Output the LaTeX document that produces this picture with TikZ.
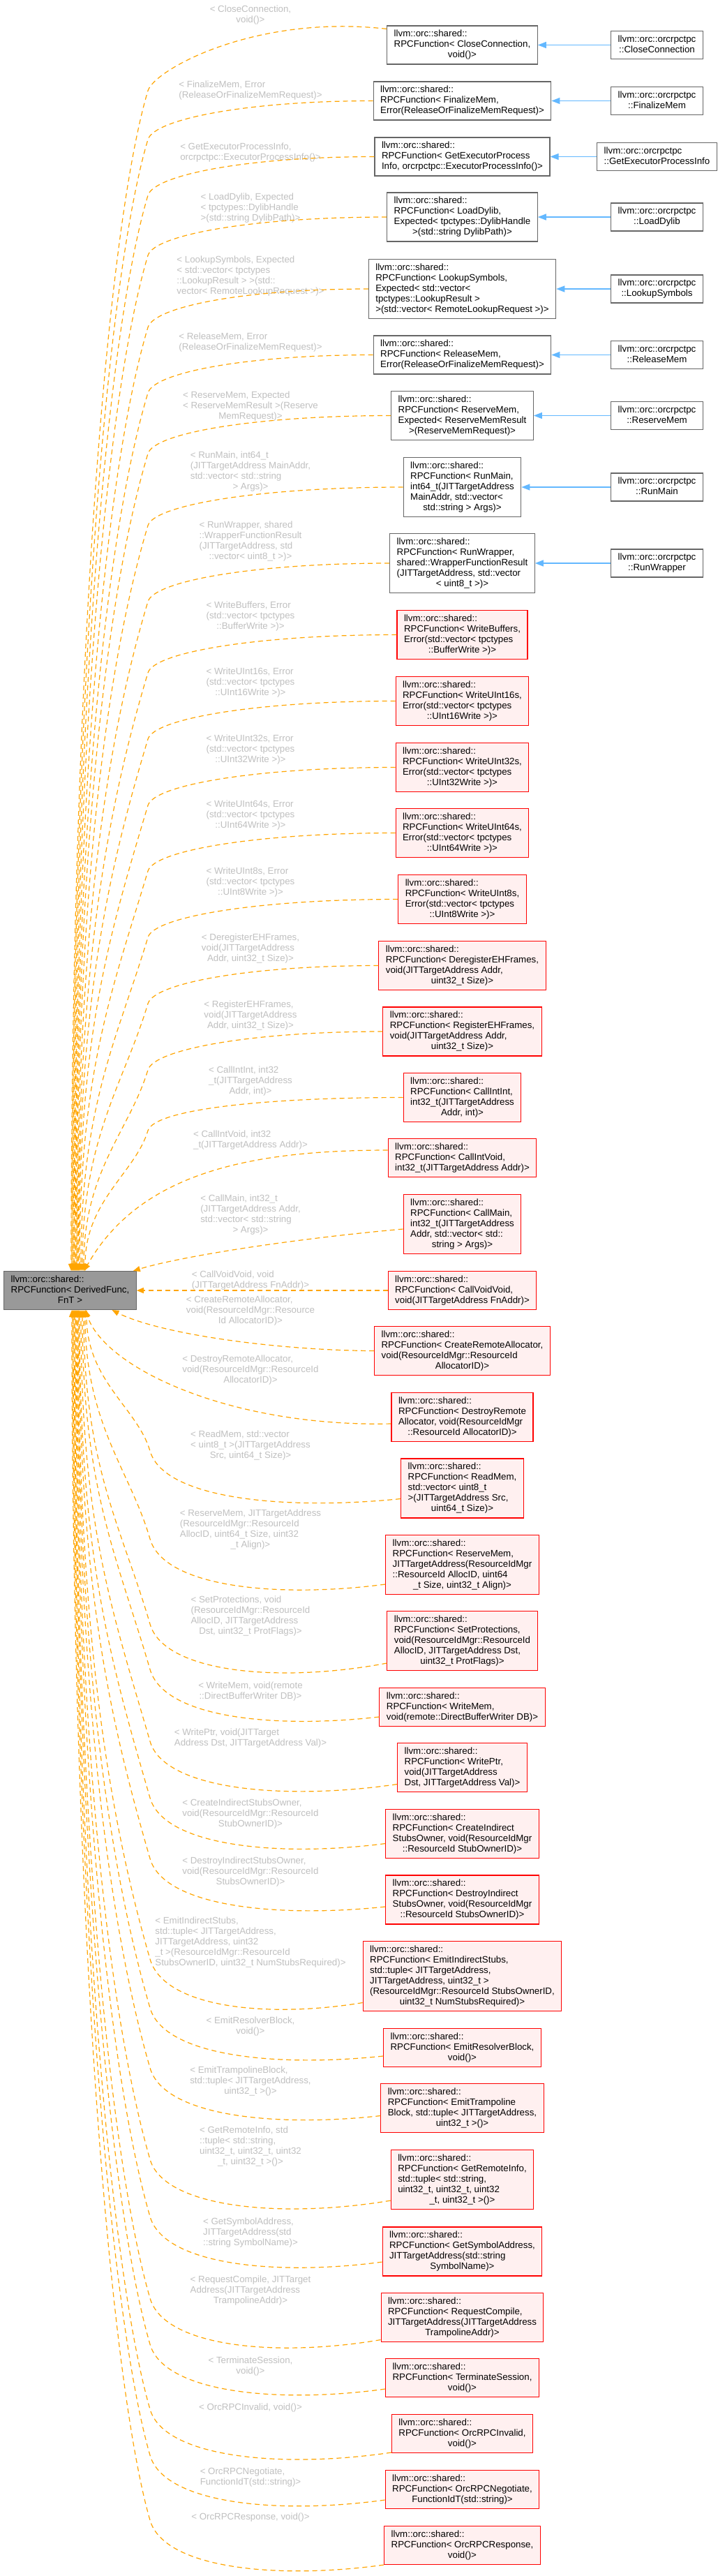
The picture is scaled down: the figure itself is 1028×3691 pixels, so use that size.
\documentclass[tikz,border=0pt]{standalone}
\usepackage{fontspec}
\setmainfont{Liberation Sans}
\usetikzlibrary{arrows.meta,calc}
\definecolor{edgeor}{HTML}{FFA500}
\definecolor{inhblue}{HTML}{63B8FF}
\definecolor{lblgray}{HTML}{C0C0C0}
\definecolor{nodegray}{HTML}{666666}
\definecolor{redfill}{HTML}{FFF0F0}
\definecolor{rootfill}{HTML}{999999}
\newcommand\Lf[1]{\multicolumn{1}{@{}l@{}}{#1}}
\newcommand\tb[1]{\begin{tabular}{@{}c@{}}#1\end{tabular}}
\newcommand\mtx[1]{\tb{\Lf{llvm::orc::shared::}\\#1}}
\newcommand\rtx[1]{\tb{\Lf{llvm::orc::orcrpctpc}\\#1}}
\newcommand\myfnt{\fontsize{13.3}{15}\selectfont}
% upper edge: #1 start, #2 start x, #3 first control y, #4 bend y, #5 target x
\newcommand\uedge[5]{%
 \pgfmathsetmacro\uqA{#2-0.55*(#2-212)}%
 \pgfmathsetmacro\uqB{#4-30}%
 \pgfmathsetmacro\uqD{1821-#4}%
 \pgfmathsetmacro\uqL{min(200,0.3*\uqD)}%
 \pgfmathsetmacro\uqE{212-0.3*\uqL}%
 \pgfmathsetmacro\uqF{#4+\uqL}%
 \pgfmathsetmacro\uqG{#4+0.5*\uqD}%
 \pgfmathsetmacro\uqT{#5-100.5}%
 \draw[tmpl] (#1) .. controls (\uqA,#3) and (221,\uqB) .. (212,#4) .. controls (\uqE,\uqF) and (#5,\uqG) .. ($(root.north)+(\uqT,0)$);}
% lower edge: #1 start, #2 start x, #3 lowest y, #4 target x
\newcommand\ledge[4]{%
 \pgfmathsetmacro\uqA{#2-0.45*(#2-215)}%
 \pgfmathsetmacro\uqB{#3+10}%
 \pgfmathsetmacro\uqC{#3-5}%
 \pgfmathsetmacro\uqY{#3-75}%
 \pgfmathsetmacro\uqD{\uqY-1877}%
 \pgfmathsetmacro\uqL{min(200,0.3*\uqD)}%
 \pgfmathsetmacro\uqE{215-0.29*\uqL}%
 \pgfmathsetmacro\uqF{\uqY-\uqL}%
 \pgfmathsetmacro\uqG{1877+0.5*\uqD}%
 \pgfmathsetmacro\uqT{#4-100.5}%
 \draw[tmpl] (#1) .. controls (\uqA,\uqB) and (235,\uqC) .. (215,\uqY) .. controls (\uqE,\uqF) and (#4,\uqG) .. ($(root.south)+(\uqT,0)$);}
\begin{document}
\begin{tikzpicture}[x=1pt,y=-1pt,
 nbox/.style={draw=nodegray,fill=white,line width=1.1pt,inner xsep=10pt,inner ysep=5pt,font=\myfnt,text=black},
 midn/.style={nbox},
 redn/.style={nbox,draw=red,fill=redfill},
 rootn/.style={nbox,fill=rootfill},
 rgt/.style={nbox},
 lbl/.style={font=\myfnt,text=lblgray,inner sep=0pt},
 tmpl/.style={draw=edgeor,line width=1.2pt,dash pattern=on 7pt off 5pt,-{Triangle[length=10pt,width=8pt]}},
 inh/.style={draw=inhblue,line width=1.3pt,-{Triangle[length=12pt,width=9pt]}}]
\fill[white] (0,0) rectangle (1028,3691);
\useasboundingbox (0,0) rectangle (1028,3691);

% root
\node[rootn] (root) at (100.5,1849) {\mtx{\Lf{RPCFunction< DerivedFunc,}\\FnT >}};

% middle nodes
\node[midn] (n1) at (662.5,64.5) {\mtx{\Lf{RPCFunction< CloseConnection,}\\void()>}};
\node[midn] (n2) at (662.5,144.5) {\mtx{\Lf{RPCFunction< FinalizeMem,}\\Error(ReleaseOrFinalizeMemRequest)>}};
\node[midn] (n3) at (662.5,224.5) {\mtx{\Lf{RPCFunction< GetExecutorProcess}\\Info, orcrpctpc::ExecutorProcessInfo()>}};
\node[midn] (n4) at (662.5,311) {\mtx{\Lf{RPCFunction< LoadDylib,}\\\Lf{Expected< tpctypes::DylibHandle}\\>(std::string DylibPath)>}};
\node[midn] (n5) at (662.5,414) {\mtx{\Lf{RPCFunction< LookupSymbols,}\\\Lf{Expected< std::vector<}\\\Lf{tpctypes::LookupResult >}\\>(std::vector< RemoteLookupRequest >)>}};
\node[midn] (n6) at (662.5,508.5) {\mtx{\Lf{RPCFunction< ReleaseMem,}\\Error(ReleaseOrFinalizeMemRequest)>}};
\node[midn] (n7) at (662.5,595.5) {\mtx{\Lf{RPCFunction< ReserveMem,}\\\Lf{Expected< ReserveMemResult}\\>(ReserveMemRequest)>}};
\node[midn] (n8) at (662.5,698) {\mtx{\Lf{RPCFunction< RunMain,}\\\Lf{int64\_t(JITTargetAddress}\\\Lf{MainAddr, std::vector<}\\std::string > Args)>}};
\node[midn] (n9) at (662.5,807) {\mtx{\Lf{RPCFunction< RunWrapper,}\\\Lf{shared::WrapperFunctionResult}\\\Lf{(JITTargetAddress, std::vector}\\< uint8\_t >)>}};
\node[redn] (n10) at (662.5,909.5) {\mtx{\Lf{RPCFunction< WriteBuffers,}\\\Lf{Error(std::vector< tpctypes}\\::BufferWrite >)>}};
\node[redn] (n11) at (662.5,1004.5) {\mtx{\Lf{RPCFunction< WriteUInt16s,}\\\Lf{Error(std::vector< tpctypes}\\::UInt16Write >)>}};
\node[redn] (n12) at (662.5,1099.5) {\mtx{\Lf{RPCFunction< WriteUInt32s,}\\\Lf{Error(std::vector< tpctypes}\\::UInt32Write >)>}};
\node[redn] (n13) at (662.5,1193.5) {\mtx{\Lf{RPCFunction< WriteUInt64s,}\\\Lf{Error(std::vector< tpctypes}\\::UInt64Write >)>}};
\node[redn] (n14) at (662.5,1288.5) {\mtx{\Lf{RPCFunction< WriteUInt8s,}\\\Lf{Error(std::vector< tpctypes}\\::UInt8Write >)>}};
\node[redn] (n15) at (662.5,1383.5) {\mtx{\Lf{RPCFunction< DeregisterEHFrames,}\\\Lf{void(JITTargetAddress Addr,}\\uint32\_t Size)>}};
\node[redn] (n16) at (662.5,1478) {\mtx{\Lf{RPCFunction< RegisterEHFrames,}\\\Lf{void(JITTargetAddress Addr,}\\uint32\_t Size)>}};
\node[redn] (n17) at (662.5,1572.5) {\mtx{\Lf{RPCFunction< CallIntInt,}\\\Lf{int32\_t(JITTargetAddress}\\Addr, int)>}};
\node[redn] (n18) at (662.5,1659) {\mtx{\Lf{RPCFunction< CallIntVoid,}\\int32\_t(JITTargetAddress Addr)>}};
\node[redn] (n19) at (662.5,1754) {\mtx{\Lf{RPCFunction< CallMain,}\\\Lf{int32\_t(JITTargetAddress}\\\Lf{Addr, std::vector< std::}\\string > Args)>}};
\node[redn] (n20) at (662.5,1849) {\mtx{\Lf{RPCFunction< CallVoidVoid,}\\void(JITTargetAddress FnAddr)>}};
\node[redn] (n21) at (662.5,1935.5) {\mtx{\Lf{RPCFunction< CreateRemoteAllocator,}\\\Lf{void(ResourceIdMgr::ResourceId}\\AllocatorID)>}};
\node[redn] (n22) at (662.5,2030.5) {\mtx{\Lf{RPCFunction< DestroyRemote}\\\Lf{Allocator, void(ResourceIdMgr}\\::ResourceId AllocatorID)>}};
\node[redn] (n23) at (662.5,2132.5) {\mtx{\Lf{RPCFunction< ReadMem,}\\\Lf{std::vector< uint8\_t}\\\Lf{>(JITTargetAddress Src,}\\uint64\_t Size)>}};
\node[redn] (n24) at (662.5,2242) {\mtx{\Lf{RPCFunction< ReserveMem,}\\\Lf{JITTargetAddress(ResourceIdMgr}\\\Lf{::ResourceId AllocID, uint64}\\\_t Size, uint32\_t Align)>}};
\node[redn] (n25) at (662.5,2351) {\mtx{\Lf{RPCFunction< SetProtections,}\\\Lf{void(ResourceIdMgr::ResourceId}\\\Lf{AllocID, JITTargetAddress Dst,}\\uint32\_t ProtFlags)>}};
\node[redn] (n26) at (662.5,2446) {\mtx{\Lf{RPCFunction< WriteMem,}\\void(remote::DirectBufferWriter DB)>}};
\node[redn] (n27) at (662.5,2532.5) {\mtx{\Lf{RPCFunction< WritePtr,}\\\Lf{void(JITTargetAddress}\\Dst, JITTargetAddress Val)>}};
\node[redn] (n28) at (662.5,2627.5) {\mtx{\Lf{RPCFunction< CreateIndirect}\\\Lf{StubsOwner, void(ResourceIdMgr}\\::ResourceId StubOwnerID)>}};
\node[redn] (n29) at (662.5,2722) {\mtx{\Lf{RPCFunction< DestroyIndirect}\\\Lf{StubsOwner, void(ResourceIdMgr}\\::ResourceId StubsOwnerID)>}};
\node[redn] (n30) at (662.5,2831.5) {\mtx{\Lf{RPCFunction< EmitIndirectStubs,}\\\Lf{std::tuple< JITTargetAddress,}\\\Lf{JITTargetAddress, uint32\_t >}\\\Lf{(ResourceIdMgr::ResourceId StubsOwnerID,}\\uint32\_t NumStubsRequired)>}};
\node[redn] (n31) at (662.5,2934) {\mtx{\Lf{RPCFunction< EmitResolverBlock,}\\void()>}};
\node[redn] (n32) at (662.5,3020.5) {\mtx{\Lf{RPCFunction< EmitTrampoline}\\\Lf{Block, std::tuple< JITTargetAddress,}\\uint32\_t >()>}};
\node[redn] (n33) at (662.5,3123) {\mtx{\Lf{RPCFunction< GetRemoteInfo,}\\\Lf{std::tuple< std::string,}\\\Lf{uint32\_t, uint32\_t, uint32}\\\_t, uint32\_t >()>}};
\node[redn] (n34) at (662.5,3226) {\mtx{\Lf{RPCFunction< GetSymbolAddress,}\\\Lf{JITTargetAddress(std::string}\\SymbolName)>}};
\node[redn] (n35) at (662.5,3320.5) {\mtx{\Lf{RPCFunction< RequestCompile,}\\\Lf{JITTargetAddress(JITTargetAddress}\\TrampolineAddr)>}};
\node[redn] (n36) at (662.5,3407) {\mtx{\Lf{RPCFunction< TerminateSession,}\\void()>}};
\node[redn] (n37) at (662.5,3487) {\mtx{\Lf{RPCFunction< OrcRPCInvalid,}\\void()>}};
\node[redn] (n38) at (662.5,3567) {\mtx{\Lf{RPCFunction< OrcRPCNegotiate,}\\FunctionIdT(std::string)>}};
\node[redn] (n39) at (662.5,3647) {\mtx{\Lf{RPCFunction< OrcRPCResponse,}\\void()>}};

% right nodes
\node[rgt] (r1) at (941.5,64.5) {\rtx{::CloseConnection}};
\node[rgt] (r2) at (941.5,144.5) {\rtx{::FinalizeMem}};
\node[rgt] (r3) at (941.5,224.5) {\rtx{::GetExecutorProcessInfo}};
\node[rgt] (r4) at (941.5,311) {\rtx{::LoadDylib}};
\node[rgt] (r5) at (941.5,414) {\rtx{::LookupSymbols}};
\node[rgt] (r6) at (941.5,508.5) {\rtx{::ReleaseMem}};
\node[rgt] (r7) at (941.5,595.5) {\rtx{::ReserveMem}};
\node[rgt] (r8) at (941.5,698) {\rtx{::RunMain}};
\node[rgt] (r9) at (941.5,807) {\rtx{::RunWrapper}};
\foreach \i in {1,...,9} {\draw[inh] (r\i) -- (n\i);}

% labels
\node[lbl] (l1) at (359,21.5) {\tb{\Lf{< CloseConnection,}\\void()>}};
\node[lbl] (l2) at (359,129.5) {\tb{\Lf{< FinalizeMem, Error}\\(ReleaseOrFinalizeMemRequest)>}};
\node[lbl] (l3) at (359,218.5) {\tb{\Lf{< GetExecutorProcessInfo,}\\orcrpctpc::ExecutorProcessInfo()>}};
\node[lbl] (l4) at (359,298.5) {\tb{\Lf{< LoadDylib, Expected}\\\Lf{< tpctypes::DylibHandle}\\>(std::string DylibPath)>}};
\node[lbl] (l5) at (359,396) {\tb{\Lf{< LookupSymbols, Expected}\\\Lf{< std::vector< tpctypes}\\\Lf{::LookupResult > >(std::}\\vector< RemoteLookupRequest >)>}};
\node[lbl] (l6) at (359,490.5) {\tb{\Lf{< ReleaseMem, Error}\\(ReleaseOrFinalizeMemRequest)>}};
\node[lbl] (l7) at (359,582) {\tb{\Lf{< ReserveMem, Expected}\\\Lf{< ReserveMemResult >(Reserve}\\MemRequest)>}};
\node[lbl] (l8) at (359,676) {\tb{\Lf{< RunMain, int64\_t}\\\Lf{(JITTargetAddress MainAddr,}\\\Lf{std::vector< std::string}\\> Args)>}};
\node[lbl] (l9) at (359,775.5) {\tb{\Lf{< RunWrapper, shared}\\\Lf{::WrapperFunctionResult}\\\Lf{(JITTargetAddress, std}\\::vector< uint8\_t >)>}};
\node[lbl] (l10) at (359,883) {\tb{\Lf{< WriteBuffers, Error}\\\Lf{(std::vector< tpctypes}\\::BufferWrite >)>}};
\node[lbl] (l11) at (359,978) {\tb{\Lf{< WriteUInt16s, Error}\\\Lf{(std::vector< tpctypes}\\::UInt16Write >)>}};
\node[lbl] (l12) at (359,1074) {\tb{\Lf{< WriteUInt32s, Error}\\\Lf{(std::vector< tpctypes}\\::UInt32Write >)>}};
\node[lbl] (l13) at (359,1168) {\tb{\Lf{< WriteUInt64s, Error}\\\Lf{(std::vector< tpctypes}\\::UInt64Write >)>}};
\node[lbl] (l14) at (359,1264) {\tb{\Lf{< WriteUInt8s, Error}\\\Lf{(std::vector< tpctypes}\\::UInt8Write >)>}};
\node[lbl] (l15) at (359,1359) {\tb{\Lf{< DeregisterEHFrames,}\\\Lf{void(JITTargetAddress}\\Addr, uint32\_t Size)>}};
\node[lbl] (l16) at (359,1455) {\tb{\Lf{< RegisterEHFrames,}\\\Lf{void(JITTargetAddress}\\Addr, uint32\_t Size)>}};
\node[lbl] (l17) at (359,1549.5) {\tb{\Lf{< CallIntInt, int32}\\\Lf{\_t(JITTargetAddress}\\Addr, int)>}};
\node[lbl] (l18) at (359,1633.5) {\tb{\Lf{< CallIntVoid, int32}\\\_t(JITTargetAddress Addr)>}};
\node[lbl] (l19) at (359,1740.5) {\tb{\Lf{< CallMain, int32\_t}\\\Lf{(JITTargetAddress Addr,}\\\Lf{std::vector< std::string}\\> Args)>}};
\node[lbl] (l20) at (359,1834.5) {\tb{\Lf{< CallVoidVoid, void}\\(JITTargetAddress FnAddr)>}};
\node[lbl] (l21) at (359,1878) {\tb{\Lf{< CreateRemoteAllocator,}\\\Lf{void(ResourceIdMgr::Resource}\\Id AllocatorID)>}};
\node[lbl] (l22) at (359,1963) {\tb{\Lf{< DestroyRemoteAllocator,}\\\Lf{void(ResourceIdMgr::ResourceId}\\AllocatorID)>}};
\node[lbl] (l23) at (359,2071) {\tb{\Lf{< ReadMem, std::vector}\\\Lf{< uint8\_t >(JITTargetAddress}\\Src, uint64\_t Size)>}};
\node[lbl] (l24) at (359,2191.5) {\tb{\Lf{< ReserveMem, JITTargetAddress}\\\Lf{(ResourceIdMgr::ResourceId}\\\Lf{AllocID, uint64\_t Size, uint32}\\\_t Align)>}};
\node[lbl] (l25) at (359,2316) {\tb{\Lf{< SetProtections, void}\\\Lf{(ResourceIdMgr::ResourceId}\\\Lf{AllocID, JITTargetAddress}\\Dst, uint32\_t ProtFlags)>}};
\node[lbl] (l26) at (359,2423.5) {\tb{\Lf{< WriteMem, void(remote}\\::DirectBufferWriter DB)>}};
\node[lbl] (l27) at (359,2490.5) {\tb{\Lf{< WritePtr, void(JITTarget}\\Address Dst, JITTargetAddress Val)>}};
\node[lbl] (l28) at (359,2599.5) {\tb{\Lf{< CreateIndirectStubsOwner,}\\\Lf{void(ResourceIdMgr::ResourceId}\\StubOwnerID)>}};
\node[lbl] (l29) at (359,2682) {\tb{\Lf{< DestroyIndirectStubsOwner,}\\\Lf{void(ResourceIdMgr::ResourceId}\\StubsOwnerID)>}};
\node[lbl] (l30) at (359,2783.5) {\tb{\Lf{< EmitIndirectStubs,}\\\Lf{std::tuple< JITTargetAddress,}\\\Lf{JITTargetAddress, uint32}\\\Lf{\_t >(ResourceIdMgr::ResourceId}\\StubsOwnerID, uint32\_t NumStubsRequired)>}};
\node[lbl] (l31) at (359,2903.5) {\tb{\Lf{< EmitResolverBlock,}\\void()>}};
\node[lbl] (l32) at (359,2982) {\tb{\Lf{< EmitTrampolineBlock,}\\\Lf{std::tuple< JITTargetAddress,}\\uint32\_t >()>}};
\node[lbl] (l33) at (359,3075.5) {\tb{\Lf{< GetRemoteInfo, std}\\\Lf{::tuple< std::string,}\\\Lf{uint32\_t, uint32\_t, uint32}\\\_t, uint32\_t >()>}};
\node[lbl] (l34) at (359,3199) {\tb{\Lf{< GetSymbolAddress,}\\\Lf{JITTargetAddress(std}\\::string SymbolName)>}};
\node[lbl] (l35) at (359,3282) {\tb{\Lf{< RequestCompile, JITTarget}\\\Lf{Address(JITTargetAddress}\\TrampolineAddr)>}};
\node[lbl] (l36) at (359,3390.5) {\tb{\Lf{< TerminateSession,}\\void()>}};
\node[lbl] (l37) at (359,3450) {\tb{< OrcRPCInvalid, void()>}};
\node[lbl] (l38) at (359,3549.5) {\tb{\Lf{< OrcRPCNegotiate,}\\FunctionIdT(std::string)>}};
\node[lbl] (l39) at (359,3607) {\tb{< OrcRPCResponse, void()>}};

% template edges (upper)
\uedge{$(n1.north west)+(0,5)$}{554}{20}{130}{102}
\uedge{n2.west}{535}{144.5}{200}{103}
\uedge{n3.west}{537}{224.5}{280}{104}
\uedge{n4.west}{551}{311}{366}{105}
\uedge{n5.west}{525}{414}{469}{106}
\uedge{n6.west}{535}{508.5}{563}{107}
\uedge{n7.west}{558}{595.5}{650}{108}
\uedge{n8.west}{577}{698}{753}{109}
\uedge{n9.west}{558}{807}{862}{110}
\uedge{n10.west}{568}{909.5}{964}{111}
\uedge{n11.west}{566}{1004.5}{1059}{112}
\uedge{n12.west}{566}{1099.5}{1154}{113}
\uedge{n13.west}{566}{1193.5}{1248}{114}
\uedge{n14.west}{570}{1288.5}{1343}{116}
\uedge{n15.west}{543}{1383.5}{1438}{118}
\uedge{n16.west}{548}{1478}{1533}{120}
\uedge{n17.west}{577}{1572.5}{1620}{122}
\draw[tmpl] ($(n18.west)+(0,-11)$) .. controls (360,1648) and (200,1680) .. ($(root.north)+(20,0)$);
\draw[tmpl] ($(n19.west)+(0,7)$) .. controls (420,1775) and (260,1800) .. ($(root.north east)+(-5,0)$);
\draw[tmpl] (n20.west) -- (root.east);
\draw[tmpl] (n21.west) .. controls (400,1935) and (230,1912) .. ($(root.south)+(60,0)$);
\draw[tmpl] ($(n22.west)+(0,9.5)$) .. controls (330,2045) and (150,1960) .. ($(root.south)+(22,0)$);
% template edges (lower)
\ledge{$(n23.west)+(0,15)$}{574}{2154}{124}
\ledge{$(n24.west)+(0,28)$}{551}{2280}{122}
\ledge{$(n25.west)+(0,32)$}{554}{2402}{120}
\ledge{$(n26.west)+(0,14)$}{542}{2467}{118}
\ledge{$(n27.west)+(0,24)$}{567}{2570}{116}
\ledge{$(n28.west)+(0,14)$}{554}{2651}{114}
\ledge{$(n29.west)+(0,10)$}{554}{2738}{113}
\ledge{$(n30.west)+(0,38)$}{521}{2882}{112}
\ledge{$(n31.west)+(0,12)$}{548}{2952}{111}
\ledge{$(n32.west)+(0,11)$}{545}{3038}{110}
\ledge{$(n33.west)+(0,30)$}{560}{3169}{109}
\ledge{$(n34.west)+(0,15)$}{548}{3251}{108}
\ledge{$(n35.west)+(0,32)$}{545}{3368}{107}
\ledge{$(n36.west)+(0,16)$}{552}{3434}{106}
\ledge{$(n37.west)+(0,27)$}{560}{3527}{105}
\ledge{$(n38.west)+(0,15)$}{551}{3593}{104}
\ledge{$(n39.west)+(0,28)$}{550}{3686}{103}
\end{tikzpicture}
\end{document}
